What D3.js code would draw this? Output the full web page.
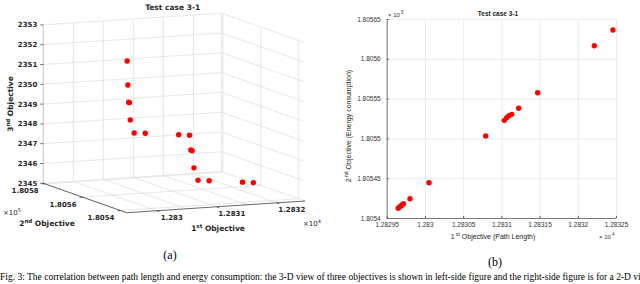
<!DOCTYPE html>
<html>
<head>
<meta charset="utf-8">
<title>Test case 3-1</title>
<script src="https://d3js.org/d3.v7.min.js"></script>
<style>
  body { margin: 0; background: #fff; }
  svg { display: block; }
</style>
</head>
<body>
<svg id="fig" width="640" height="284"></svg>
<script>
// solutions of test case 3-1 (1st objective shown x1e4, 2nd x1e5)
var obj1 = [1.282965, 1.2829667, 1.2829685, 1.2829702, 1.282972, 1.2829805, 1.2830053, 1.2830795,
            1.2831038, 1.283107, 1.28311, 1.2831135, 1.2831227, 1.2831475, 1.2832216, 1.283246];
var obj2 = [1.8054122, 1.8054137, 1.8054152, 1.8054166, 1.805418, 1.8054242, 1.8054443, 1.805503,
            1.8055227, 1.805526, 1.8055285, 1.8055302, 1.8055378, 1.8055574, 1.8056164, 1.8056361];
var obj3 = [2352.48, 2351.26, 2350.38, 2350.35, 2349.47, 2348.77, 2348.64, 2348.22,
            2348.08, 2347.32, 2347.27, 2346.39, 2345.72, 2345.58, 2345.16, 2345.02];

// 3-D view ticks
var zTicks = [2345, 2346, 2347, 2348, 2349, 2350, 2351, 2352, 2353];
var zTickLabels = ["2345", "2346", "2347", "2348", "2349", "2350", "2351", "2352", "2353"];
var x1Grid3d = [1.28295, 1.283, 1.28305, 1.2831, 1.28315, 1.2832];
var x1Ticks3d = [1.283, 1.2831, 1.2832];
var x1TickLabels3d = ["1.283", "1.2831", "1.2832"];
var x2Ticks3d = [1.8054, 1.8056, 1.8058];
var x2TickLabels3d = ["1.8054", "1.8056", "1.8058"];

// 2-D view ticks
var xTicks2d = [1.28295, 1.283, 1.28305, 1.2831, 1.28315, 1.2832, 1.28325];
var xTickLabels2d = ["1.28295", "1.283", "1.28305", "1.2831", "1.28315", "1.2832", "1.28325"];
var yTicks2d = [1.8054, 1.80545, 1.8055, 1.80555, 1.8056, 1.80565];
var yTickLabels2d = ["1.8054", "1.80545", "1.8055", "1.80555", "1.8056", "1.80565"];

var svg = d3.select("#fig");
var gridCol = "#dcdcdc", axCol = "#262626";

/* ---------- (a) 3-D view ---------- */
var sa = d3.scaleLinear().domain([1.28295, 1.283247]).range([0, 1]);
var sb = d3.scaleLinear().domain([1.805367, 1.805807]).range([0, 1]);
var sc = d3.scaleLinear().domain([2345, 2353]).range([0, 1]);
// screen position of the front corner and of the three axis directions
var org = [126.7, 212.7], ea = [178.3, -11.7], eb = [-83.4, -29.4], ec = [0, -158.4];
function proj(p1, p2, p3) {
  var a = sa(p1), b = sb(p2), c = sc(p3);
  return [org[0] + a * ea[0] + b * eb[0] + c * ec[0],
          org[1] + a * ea[1] + b * eb[1] + c * ec[1]];
}
var x1d = sa.domain(), x2d = sb.domain(), zd = sc.domain();
var g3 = svg.append("g").attr("font-family", "DejaVu Sans").attr("font-weight", "bold").attr("fill", axCol);

function seg(p, q, col) {
  g3.append("line").attr("x1", p[0]).attr("y1", p[1]).attr("x2", q[0]).attr("y2", q[1])
    .attr("stroke", col).attr("stroke-width", 0.7);
}
// back-left wall
zTicks.forEach(function(z) { seg(proj(x1d[0], x2d[1], z), proj(x1d[1], x2d[1], z), gridCol); });
x1Grid3d.concat([x1d[1]]).forEach(function(v) { seg(proj(v, x2d[1], zd[0]), proj(v, x2d[1], zd[1]), gridCol); });
// back-right wall
zTicks.forEach(function(z) { seg(proj(x1d[1], x2d[0], z), proj(x1d[1], x2d[1], z), gridCol); });
x2Ticks3d.forEach(function(v) { seg(proj(x1d[1], v, zd[0]), proj(x1d[1], v, zd[1]), gridCol); });
// floor
x2Ticks3d.forEach(function(v) { seg(proj(x1d[0], v, zd[0]), proj(x1d[1], v, zd[0]), gridCol); });
x1Grid3d.forEach(function(v) { seg(proj(v, x2d[0], zd[0]), proj(v, x2d[1], zd[0]), gridCol); });

// axis lines
seg(proj(x1d[0], x2d[1], zd[0]), proj(x1d[0], x2d[1], zd[1]), "#bdbdbd");
seg(proj(x1d[0], x2d[0], zd[0]), proj(x1d[0], x2d[1], zd[0]), axCol);
seg(proj(x1d[0], x2d[0], zd[0]), proj(x1d[1], x2d[0], zd[0]), axCol);

// z ticks
zTicks.forEach(function(z, i) {
  var p = proj(x1d[0], x2d[1], z);
  seg(p, [p[0] - 3, p[1]], axCol);
  g3.append("text").attr("x", p[0] - 6).attr("y", p[1]).attr("dy", "0.35em")
    .attr("text-anchor", "end").attr("font-size", 7).text(zTickLabels[i]);
});
// 1st objective ticks
x1Ticks3d.forEach(function(v, i) {
  var p = proj(v, x2d[0], zd[0]);
  seg(p, [p[0] + 2.5, p[1] + 1], axCol);
  g3.append("text").attr("x", p[0] + 15).attr("y", p[1] + 7).attr("dy", "0.35em")
    .attr("text-anchor", "middle").attr("font-size", 7).text(x1TickLabels3d[i]);
});
// 2nd objective ticks
x2Ticks3d.forEach(function(v, i) {
  var p = proj(x1d[0], v, zd[0]);
  seg(p, [p[0] - 3, p[1] + 0.2], axCol);
  g3.append("text").attr("x", p[0] - 6).attr("y", p[1] + 7).attr("dy", "0.35em")
    .attr("text-anchor", "end").attr("font-size", 7).text(x2TickLabels3d[i]);
});

// points
g3.selectAll("circle").data(obj1).join("circle")
  .attr("cx", function(d, i) { return proj(d, obj2[i], obj3[i])[0]; })
  .attr("cy", function(d, i) { return proj(d, obj2[i], obj3[i])[1]; })
  .attr("r", 2.7).attr("fill", "#ff0000");

// labels
g3.append("text").attr("x", 172.7).attr("y", 9.5).attr("text-anchor", "middle")
  .attr("font-size", 7.5).text("Test case 3-1");
var zl = g3.append("text").attr("transform", "translate(13,104) rotate(-90)")
  .attr("text-anchor", "middle").attr("font-size", 7.5);
zl.append("tspan").text("3");
zl.append("tspan").attr("dy", -3).attr("font-size", 5.5).text("nd");
zl.append("tspan").attr("dy", 3).text(" Objective");
var yl = g3.append("text").attr("x", 47).attr("y", 226).attr("text-anchor", "middle").attr("font-size", 7.5);
yl.append("tspan").text("2");
yl.append("tspan").attr("dy", -3).attr("font-size", 5.5).text("nd");
yl.append("tspan").attr("dy", 3).text(" Objective");
var xl = g3.append("text").attr("x", 218).attr("y", 231).attr("text-anchor", "middle").attr("font-size", 7.5);
xl.append("tspan").text("1");
xl.append("tspan").attr("dy", -3).attr("font-size", 5.5).text("st");
xl.append("tspan").attr("dy", 3).text(" Objective");
var e5 = g3.append("text").attr("x", 3).attr("y", 214.5).attr("font-size", 7).attr("font-weight", "normal");
e5.append("tspan").text("\u00d710");
e5.append("tspan").attr("dy", -3).attr("font-size", 5).text("5");
var e4 = g3.append("text").attr("x", 303).attr("y", 226).attr("font-size", 7).attr("font-weight", "normal");
e4.append("tspan").text("\u00d710");
e4.append("tspan").attr("dy", -3).attr("font-size", 5).text("4");

/* ---------- (b) 2-D view ---------- */
var pL = 386.7, pR = 616, pT = 19, pB = 218;
var x = d3.scaleLinear().domain([1.28295, 1.28325]).range([pL, pR]);
var y = d3.scaleLinear().domain([1.8054, 1.80565]).range([pB, pT]);
var g2 = svg.append("g").attr("font-family", "Liberation Sans");

g2.append("g").attr("transform", "translate(0," + pB + ")")
  .call(d3.axisBottom(x).tickValues(xTicks2d).tickSize(-(pB - pT)).tickFormat(""))
  .call(function(g) { g.select(".domain").remove(); g.selectAll("line").attr("stroke", "#e3e3e3").attr("stroke-width", 0.7); });
g2.append("g").attr("transform", "translate(" + pL + ",0)")
  .call(d3.axisLeft(y).tickValues(yTicks2d).tickSize(-(pR - pL)).tickFormat(""))
  .call(function(g) { g.select(".domain").remove(); g.selectAll("line").attr("stroke", "#e3e3e3").attr("stroke-width", 0.7); });

var xa = g2.append("g").attr("transform", "translate(0," + pB + ")")
  .call(d3.axisBottom(x).tickValues(xTicks2d).tickSizeInner(-2).tickSizeOuter(0).tickPadding(4.5)
    .tickFormat(function(d, i) { return xTickLabels2d[i]; }));
var ya = g2.append("g").attr("transform", "translate(" + pL + ",0)")
  .call(d3.axisLeft(y).tickValues(yTicks2d).tickSizeInner(-2).tickSizeOuter(0).tickPadding(6)
    .tickFormat(function(d, i) { return yTickLabels2d[i]; }));
[xa, ya].forEach(function(a) {
  a.attr("font-family", "Liberation Sans").attr("font-size", 6.5);
  a.select(".domain").attr("stroke", "#5a5a5a").attr("stroke-width", 0.8);
  a.selectAll("line").attr("stroke", "#5a5a5a");
  a.selectAll("text").attr("fill", "#333");
});

g2.selectAll("circle").data(obj1).join("circle")
  .attr("cx", function(d) { return x(d); })
  .attr("cy", function(d, i) { return y(obj2[i]); })
  .attr("r", 2.7).attr("fill", "#ff0000");

g2.append("text").attr("x", 498).attr("y", 16).attr("text-anchor", "middle")
  .attr("font-size", 6.5).attr("font-weight", "bold").attr("fill", "#222").text("Test case 3-1");
var b5 = g2.append("text").attr("x", 388).attr("y", 17).attr("font-size", 6).attr("fill", "#333");
b5.append("tspan").text("\u00d7 10");
b5.append("tspan").attr("dy", -3).attr("font-size", 4.5).text(" 5");
var b4 = g2.append("text").attr("x", 599).attr("y", 239).attr("font-size", 6).attr("fill", "#333");
b4.append("tspan").text("\u00d7 10");
b4.append("tspan").attr("dy", -3).attr("font-size", 4.5).text(" 4");
var bx = g2.append("text").attr("x", 493).attr("y", 239).attr("text-anchor", "middle").attr("font-size", 7).attr("fill", "#222");
bx.append("tspan").text("1");
bx.append("tspan").attr("dy", -3).attr("font-size", 5).text(" st");
bx.append("tspan").attr("dy", 3).text(" Objective (Path Length)");
var by = g2.append("text").attr("transform", "translate(351,126) rotate(-90)")
  .attr("text-anchor", "middle").attr("font-size", 7).attr("fill", "#222");
by.append("tspan").text("2");
by.append("tspan").attr("dy", -3).attr("font-size", 5).text(" nd");
by.append("tspan").attr("dy", 3).text(" Objective (Energy consumption)");

/* ---------- sub-captions and caption ---------- */
svg.append("text").attr("x", 170).attr("y", 259).attr("text-anchor", "middle")
  .attr("font-family", "Liberation Serif").attr("font-size", 12).text("(a)");
svg.append("text").attr("x", 495).attr("y", 265.5).attr("text-anchor", "middle")
  .attr("font-family", "Liberation Serif").attr("font-size", 12).text("(b)");
svg.append("text").attr("x", 0).attr("y", 280).attr("font-family", "Liberation Serif").attr("font-size", 9.5)
  .text("Fig. 3: The correlation between path length and energy consumption: the 3-D view of three objectives is shown in left-side figure and the right-side figure is for a 2-D view");
</script>
</body>
</html>
